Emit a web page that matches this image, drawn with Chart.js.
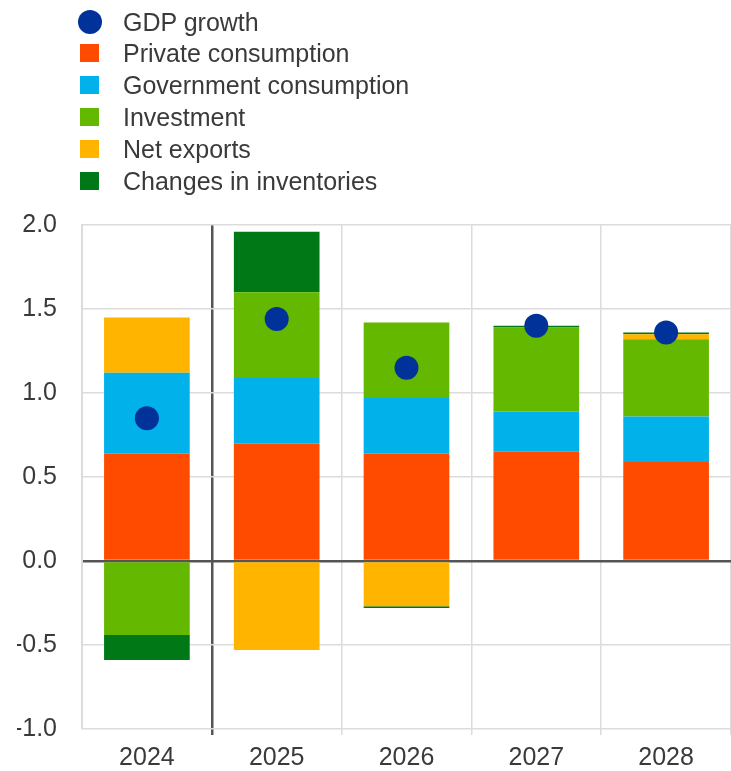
<!DOCTYPE html>
<html>
<head>
<meta charset="utf-8">
<script src="https://cdn.jsdelivr.net/npm/chart.js@4"></script>
<style>
    body { margin: 0; background: #fff; }
    #wrap { position: relative; width: 731px; height: 771px; }
    #legend { position: absolute; left: 0; top: 0; font-family: "Liberation Sans", Arial, sans-serif; font-size: 25px; color: #3a3a3a; }
    .item { position: absolute; left: 0; height: 32px; white-space: nowrap; }
    .mark { position: absolute; }
    .label { position: absolute; left: 123px; top: 50%; transform: translateY(-50%); line-height: 1; }
</style>
</head>
<body>
<div id="wrap">
    <canvas id="contribChart" width="731" height="771"></canvas>
    <div id="legend"></div>
</div>
<script>
const years = ['2024', '2025', '2026', '2027', '2028'];
const gdpGrowth = [0.85, 1.44, 1.15, 1.40, 1.36];
const privateConsumption = [0.64, 0.70, 0.64, 0.65, 0.59];
const governmentConsumption = [0.48, 0.39, 0.33, 0.24, 0.27];
const investment = [-0.44, 0.51, 0.45, 0.50, 0.46];
const netExports = [0.33, -0.53, -0.27, 0.00, 0.03];
const inventories = [-0.15, 0.36, -0.01, 0.01, 0.01];
const yTicks = [-1.0, -0.5, 0.0, 0.5, 1.0, 1.5, 2.0];

const fontFamily = '"Liberation Sans", Arial, sans-serif';
const textColor = '#3a3a3a';

function barSet(label, data, color) {
    return {
        type: 'bar',
        label: label,
        data: data,
        backgroundColor: color,
        borderWidth: 0,
        order: 1,
        categoryPercentage: 1.0,
        barPercentage: 0.66
    };
}

const ctx = document.getElementById('contribChart').getContext('2d');

const chart = new Chart(ctx, {
    data: {
        labels: years,
        datasets: [
            {
                type: 'line',
                label: 'GDP growth',
                data: gdpGrowth,
                stack: 'gdp',
                showLine: false,
                pointRadius: 12,
                pointHoverRadius: 12,
                pointBackgroundColor: '#003299',
                pointBorderWidth: 0,
                backgroundColor: '#003299',
                borderColor: '#003299',
                order: 0
            },
            barSet('Private consumption', privateConsumption, '#ff4b00'),
            barSet('Government consumption', governmentConsumption, '#00b1ea'),
            barSet('Investment', investment, '#65b800'),
            barSet('Net exports', netExports, '#ffb400'),
            barSet('Changes in inventories', inventories, '#007816')
        ]
    },
    options: {
        responsive: false,
        animation: false,
        layout: {
            autoPadding: false,
            padding: { top: 225, left: 17, right: 0, bottom: 0 }
        },
        plugins: {
            legend: { display: false },
            tooltip: { enabled: false }
        },
        scales: {
            x: {
                stacked: true,
                border: { display: false },
                afterFit: (axis) => {
                    axis.height = 42;
                    axis.paddingLeft = 0;
                    axis.paddingRight = 0;
                },
                grid: {
                    offset: true,
                    tickLength: 6,
                    color: (c) => c.index === 1 ? '#555555' : (c.index === 0 || c.index === 5 ? 'rgba(0,0,0,0)' : '#dcdcdc'),
                    lineWidth: (c) => c.index === 1 ? 2.5 : 1.5
                },
                ticks: {
                    color: textColor,
                    padding: 8,
                    font: { family: fontFamily, size: 25 }
                }
            },
            y: {
                stacked: true,
                min: -1,
                max: 2,
                afterBuildTicks: (axis) => {
                    axis.ticks = yTicks.map(v => ({ value: v }));
                },
                afterFit: (axis) => { axis.width = 65; },
                border: { display: true, color: '#dcdcdc', width: 2 },
                grid: {
                    drawTicks: false,
                    color: (c) => c.tick && c.tick.value === 0 ? '#555555' : '#dcdcdc',
                    lineWidth: (c) => c.tick && c.tick.value === 0 ? 2.5 : 1.5
                },
                ticks: {
                    color: textColor,
                    padding: 25,
                    font: { family: fontFamily, size: 25 },
                    callback: (v) => Number(v).toFixed(1)
                }
            }
        }
    }
});

// Legend, one entry per row, built from the chart's datasets
function generateLegend(chart) {
    const box = document.getElementById('legend');
    const rowCenters = [22, 53, 85, 117, 149, 181];
    chart.data.datasets.forEach((ds, i) => {
        const item = document.createElement('div');
        item.className = 'item';
        item.style.top = (rowCenters[i] - 16) + 'px';
        const mark = document.createElement('div');
        mark.className = 'mark';
        if (ds.type === 'line') {
            mark.style.cssText = 'left:78px;top:4px;width:24px;height:24px;border-radius:50%;background:' + ds.pointBackgroundColor;
        } else {
            mark.style.cssText = 'left:80px;top:7px;width:19px;height:18px;background:' + ds.backgroundColor;
        }
        const label = document.createElement('div');
        label.className = 'label';
        label.textContent = ds.label;
        item.appendChild(mark);
        item.appendChild(label);
        box.appendChild(item);
    });
}

generateLegend(chart);
</script>
</body>
</html>
